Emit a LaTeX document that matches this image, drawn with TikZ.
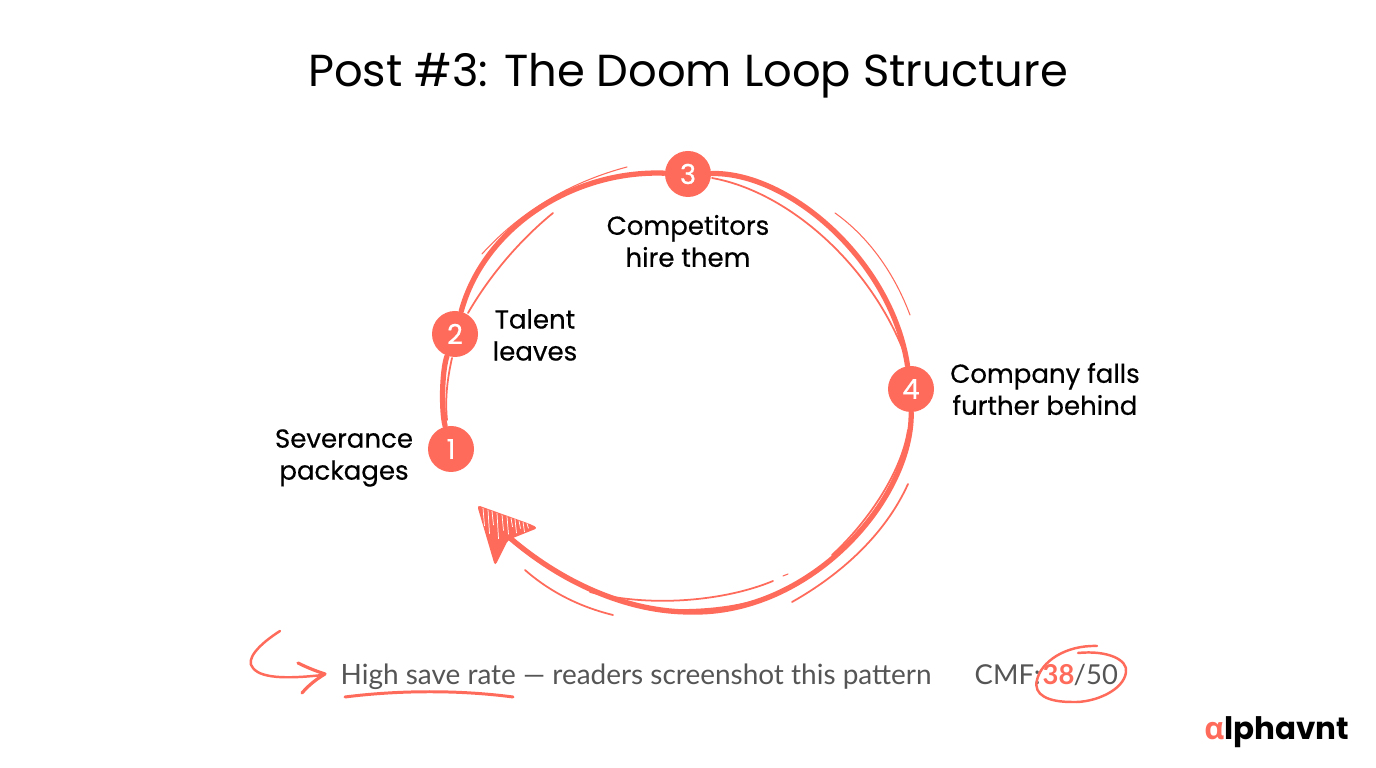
\documentclass[tikz,border=0pt]{standalone}
\usepackage{fontspec}
\setmainfont{Poppins}
\newfontfamily\labelfont[FakeBold=0.45]{Poppins}
\newfontfamily\bodyfont{Lato}
\newfontfamily\logofont{Open Sans}
\definecolor{coral}{HTML}{FF6B5B}
\definecolor{bodygray}{HTML}{555555}
\tikzset{
	numcircle/.style={circle,fill=coral,text=white,minimum size=46*0.01cm,inner sep=0pt,font=\labelfont\fontsize{7.8}{9}\selectfont},
	steplabel/.style={align=center,text=black,font=\labelfont\fontsize{7.4}{9.1}\selectfont},
	mainarc/.style={color=coral,line width=1.5pt,line cap=round},
	thinarc/.style={color=coral,line width=0.3pt,line cap=round},
	midarc/.style={color=coral,line width=0.5pt,line cap=round},
	penline/.style={color=coral,line width=0.7pt,line cap=round,line join=round},
	footertext/.style={anchor=base west,inner sep=0pt,font=\bodyfont\fontsize{7.8}{9}\selectfont}
}

\begin{document}
\begin{tikzpicture}[x=0.01cm,y=-0.01cm]

\useasboundingbox (0,0) rectangle (1376,768);
\fill[white] (0,0) rectangle (1376,768);

\node (title) at (688,76) {\fontsize{12.75}{15}\selectfont Post \#3: The Doom Loop Structure};

% the four steps
\node[numcircle] (n1) at (451,449) {1};
\node[numcircle] (n2) at (455,334) {2};
\node[numcircle] (n3) at (688,174) {3};
\node[numcircle] (n4) at (911,389) {4};

\node[steplabel] (l1) at (344,458) {Severance\\packages};
\node[steplabel] (l2) at (535,335) {Talent\\leaves};
\node[steplabel] (l3) at (688,241) {Competitors\\hire them};
\node[steplabel] (l4) at (1045,389) {Company falls\\further behind};

\coordinate (tail) at (510,538);

% main strokes
\draw[mainarc] (n1) .. controls (441,410) and (442,370) .. (n2);
\draw[mainarc] (n2) .. controls (484,228) and (572,170) .. (n3);
\draw[mainarc] (n3) .. controls (790,172) and (892,262) .. (n4);
\draw[mainarc] (n4) .. controls (912,500) and (810,615) .. (690,612) .. controls (630,612) and (565,585) .. (tail);

% sketchy strokes
\draw[midarc] (447,420) .. controls (445,400) and (447,380) .. (452,358);
\draw[midarc] (468,313) .. controls (490,275) and (520,240) .. (553,213);
\draw[thinarc] (482,254) .. controls (520,212) and (570,182) .. (627,167);
\draw[midarc] (712,178) .. controls (790,192) and (875,268) .. (908,363);
\draw[thinarc] (835,213) .. controls (870,238) and (895,275) .. (910,315);
\draw[midarc] (908,430) .. controls (902,470) and (870,520) .. (832,555);
\draw[midarc] (908,484) .. controls (885,535) and (840,575) .. (792,602);
\draw[midarc] (773,581) .. controls (725,601) and (650,608) .. (590,592);
\draw[thinarc] (783,576)--(788,574);
\draw[midarc] (767,597) .. controls (745,605) and (715,610) .. (680,610);
\draw[midarc] (525,570) .. controls (550,592) and (580,607) .. (613,615);

% arrow head
\fill[coral,rounded corners=1pt] (477,505)--(530,524)--(538,528)--(508,540)--(495,566)--cycle;
\foreach \x/\l in {483/18,488/24,492/14,497/26,502/16,507/18,511/9,515/14,519/8,523/10,527/5}{
	\draw[white,line width=0.2pt] (\x,{508+(\x-483)*0.35})--({\x+1.5},{508+(\x-483)*0.35+\l});
}

% footer
\draw[penline] (280,631) .. controls (258,645) and (245,660) .. (253,668) .. controls (262,680) and (295,678) .. (323,675);
\draw[penline,line width=0.9pt] (298,663) .. controls (308,668) and (316,671) .. (325,674) .. controls (315,680) and (308,686) .. (302,693);
\node[footertext,text=bodygray,font=\bodyfont\fontsize{7.95}{9}\selectfont] (save) at (340,685) {High save rate — readers screenshot this pattern};
\draw[penline,line width=0.85pt] (345,697) .. controls (400,690) and (460,690) .. (513,697);

\node[footertext,text=bodygray] (cmf) at (974,685) {CMF:};
\node[footertext,text=coral] (score) at (1042,685) {\bfseries 38};
\node[footertext,text=bodygray] (total) at (1073,685) {/50};
\draw[penline] (1078,653) .. controls (1108,650) and (1128,660) .. (1126,672) .. controls (1124,690) and (1095,703) .. (1072,702) .. controls (1048,702) and (1033,695) .. (1037,680) .. controls (1041,662) and (1065,645) .. (1097,646);

\node[anchor=base east,inner sep=0pt] (logo) at (1350,740) {\bfseries\fontsize{8.8}{11}\selectfont{\logofont\color{coral}α}lphavnt};

\end{tikzpicture}
\end{document}
